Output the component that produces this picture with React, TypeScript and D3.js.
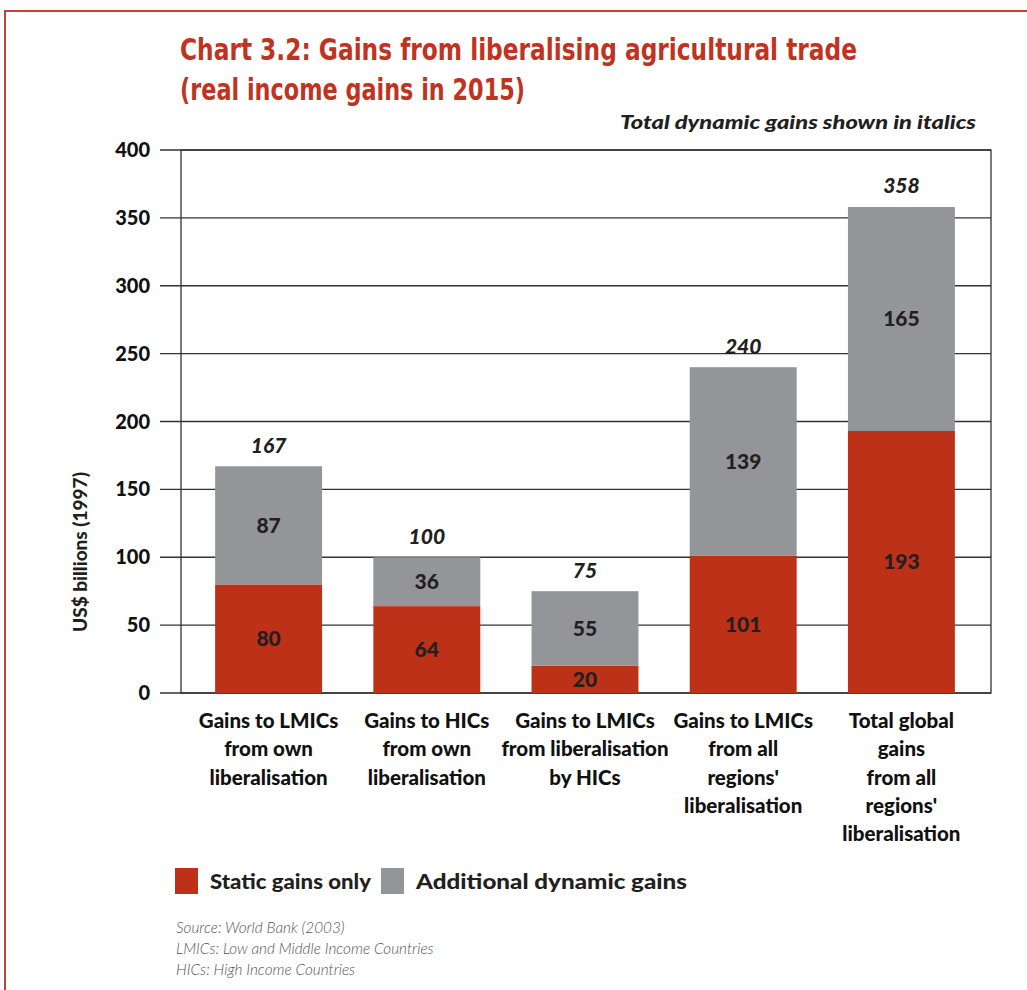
import * as d3 from 'd3';
import React, { useEffect, useRef } from 'react';

// values (US$ billions, 1997)
const categories = [
  ['Gains to LMICs', 'from own', 'liberalisation'],
  ['Gains to HICs', 'from own', 'liberalisation'],
  ['Gains to LMICs', 'from liberalisation', 'by HICs'],
  ['Gains to LMICs', 'from all', "regions'", 'liberalisation'],
  ['Total global', 'gains', 'from all', "regions'", 'liberalisation'],
];
const staticGains = [80, 64, 20, 101, 193];
const dynamicGains = [87, 36, 55, 139, 165];
const totalGains = [167, 100, 75, 240, 358];
const yTicks = [0, 50, 100, 150, 200, 250, 300, 350, 400];
const legendItems = ['Static gains only', 'Additional dynamic gains'];
const notes = [
  'Source: World Bank (2003)',
  'LMICs: Low and Middle Income Countries',
  'HICs: High Income Countries',
];

const RED = '#bd3119';
const GREY = '#939598';
const INK = '#231f20';
const FONT = "Lato, 'Open Sans', sans-serif";
const HEAVY = 900;

const W = 1027;
const H = 990;
const plot = { left: 181, right: 991, top: 150, bottom: 693 };

const Chart = () => {
  const ref = useRef<SVGSVGElement>(null);

  useEffect(() => {
    const svg = d3.select(ref.current);
    svg.selectAll('*').remove();

    // frame
    svg
      .append('path')
      .attr('d', `M5,${H} V11 H${W}`)
      .attr('fill', 'none')
      .attr('stroke', '#c8403a')
      .attr('stroke-width', 2);

    // title
    const title = svg
      .append('text')
      .attr('font-family', "'Liberation Sans Narrow', 'DejaVu Sans Condensed', sans-serif")
      .attr('font-weight', 'bold')
      .attr('font-size', 31)
      .attr('fill', '#c0341f');
    title
      .append('tspan')
      .attr('x', 180)
      .attr('y', 60)
      .attr('textLength', 677)
      .attr('lengthAdjust', 'spacingAndGlyphs')
      .text('Chart 3.2: Gains from liberalising agricultural trade');
    title
      .append('tspan')
      .attr('x', 180)
      .attr('y', 100)
      .attr('textLength', 345)
      .attr('lengthAdjust', 'spacingAndGlyphs')
      .text('(real income gains in 2015)');

    svg
      .append('text')
      .attr('x', 976)
      .attr('y', 129)
      .attr('text-anchor', 'end')
      .attr('font-family', FONT)
      .attr('font-style', 'italic')
      .attr('font-weight', HEAVY)
      .attr('font-size', 19)
      .attr('textLength', 356)
      .attr('lengthAdjust', 'spacingAndGlyphs')
      .attr('fill', INK)
      .text('Total dynamic gains shown in italics');

    const y = d3.scaleLinear().domain([0, 400]).range([plot.bottom, plot.top]);
    const x = d3
      .scaleBand<number>()
      .domain(d3.range(categories.length))
      .range([189.5, 980.5])
      .paddingInner(0.324)
      .paddingOuter(0.162);

    // gridlines + ticks
    const grid = svg.append('g');
    grid
      .selectAll('line')
      .data(yTicks)
      .join('line')
      .attr('x1', 160)
      .attr('x2', plot.right)
      .attr('y1', (d) => y(d))
      .attr('y2', (d) => y(d))
      .attr('stroke', '#333')
      .attr('stroke-width', 1.3);
    grid
      .selectAll('text')
      .data(yTicks)
      .join('text')
      .attr('x', 150)
      .attr('y', (d) => y(d))
      .attr('dy', '0.35em')
      .attr('text-anchor', 'end')
      .attr('font-family', FONT)
      .attr('font-weight', HEAVY)
      .attr('font-size', 20)
      .attr('fill', '#111')
      .text((d) => d);

    // plot frame
    svg
      .append('rect')
      .attr('x', plot.left)
      .attr('y', plot.top)
      .attr('width', plot.right - plot.left)
      .attr('height', plot.bottom - plot.top)
      .attr('fill', 'none')
      .attr('stroke', '#333')
      .attr('stroke-width', 1.3);

    svg
      .append('text')
      .attr('transform', `translate(80,552) rotate(-90)`)
      .attr('text-anchor', 'middle')
      .attr('dy', '0.35em')
      .attr('font-family', FONT)
      .attr('font-weight', HEAVY)
      .attr('font-size', 19)
      .attr('fill', INK)
      .text('US$ billions (1997)');

    const bars = svg
      .append('g')
      .selectAll('g')
      .data(d3.range(categories.length))
      .join('g');

    bars
      .append('rect')
      .attr('x', (i) => x(i)!)
      .attr('width', x.bandwidth())
      .attr('y', (i) => y(staticGains[i]))
      .attr('height', (i) => y(0) - y(staticGains[i]))
      .attr('fill', RED);
    bars
      .append('rect')
      .attr('x', (i) => x(i)!)
      .attr('width', x.bandwidth())
      .attr('y', (i) => y(staticGains[i] + dynamicGains[i]))
      .attr('height', (i) => y(staticGains[i]) - y(staticGains[i] + dynamicGains[i]))
      .attr('fill', GREY);

    const cx = (i: number) => x(i)! + x.bandwidth() / 2;
    const segLabel = (sel: any) =>
      sel
        .attr('x', cx)
        .attr('dy', '0.35em')
        .attr('text-anchor', 'middle')
        .attr('font-family', FONT)
        .attr('font-weight', HEAVY)
        .attr('font-size', 21)
        .attr('fill', INK);
    bars
      .append('text')
      .call(segLabel)
      .attr('y', (i) => (y(0) + y(staticGains[i])) / 2)
      .text((i) => staticGains[i]);
    bars
      .append('text')
      .call(segLabel)
      .attr('y', (i) => (y(staticGains[i]) + y(staticGains[i] + dynamicGains[i])) / 2)
      .text((i) => dynamicGains[i]);
    bars
      .append('text')
      .call(segLabel)
      .attr('font-style', 'italic')
      .attr('y', (i) => y(totalGains[i]) - 21)
      .text((i) => totalGains[i]);

    // category labels
    bars
      .append('text')
      .attr('text-anchor', 'middle')
      .attr('font-family', FONT)
      .attr('font-weight', HEAVY)
      .attr('font-size', 20.5)
      .attr('fill', '#111')
      .selectAll('tspan')
      .data((i) => categories[i].map((t) => ({ t, i })))
      .join('tspan')
      .attr('x', (d: any) => cx(d.i))
      .attr('y', (_: any, k: number) => 728 + k * 28.3)
      .text((d: any) => d.t);

    // legend
    const legend = svg
      .append('g')
      .selectAll('g')
      .data(legendItems)
      .join('g')
      .attr('transform', (_, k) => `translate(${k === 0 ? 175 : 381},868)`);
    legend
      .append('rect')
      .attr('width', 23)
      .attr('height', 26)
      .attr('fill', (_, k) => (k === 0 ? RED : GREY));
    legend
      .append('text')
      .attr('x', 35)
      .attr('y', 21)
      .attr('font-family', FONT)
      .attr('font-weight', HEAVY)
      .attr('font-size', 20)
      .attr('textLength', (_, k) => (k === 0 ? 161 : 271))
      .attr('lengthAdjust', 'spacingAndGlyphs')
      .attr('fill', INK)
      .text((d) => d);

    svg
      .append('g')
      .selectAll('text')
      .data(notes)
      .join('text')
      .attr('x', 176)
      .attr('y', (_, k) => 933 + k * 21)
      .attr('font-family', FONT)
      .attr('font-style', 'italic')
      .attr('font-weight', 300)
      .attr('font-size', 15.3)
      .attr('fill', '#555')
      .text((d) => d);
  }, []);

  return <svg ref={ref} width={W} height={H} style={{ display: 'block' }} />;
};

export default function App() {
  return (
    <div style={{ position: 'absolute', left: 0, top: 0, background: '#fff' }}>
      <Chart />
    </div>
  );
}
